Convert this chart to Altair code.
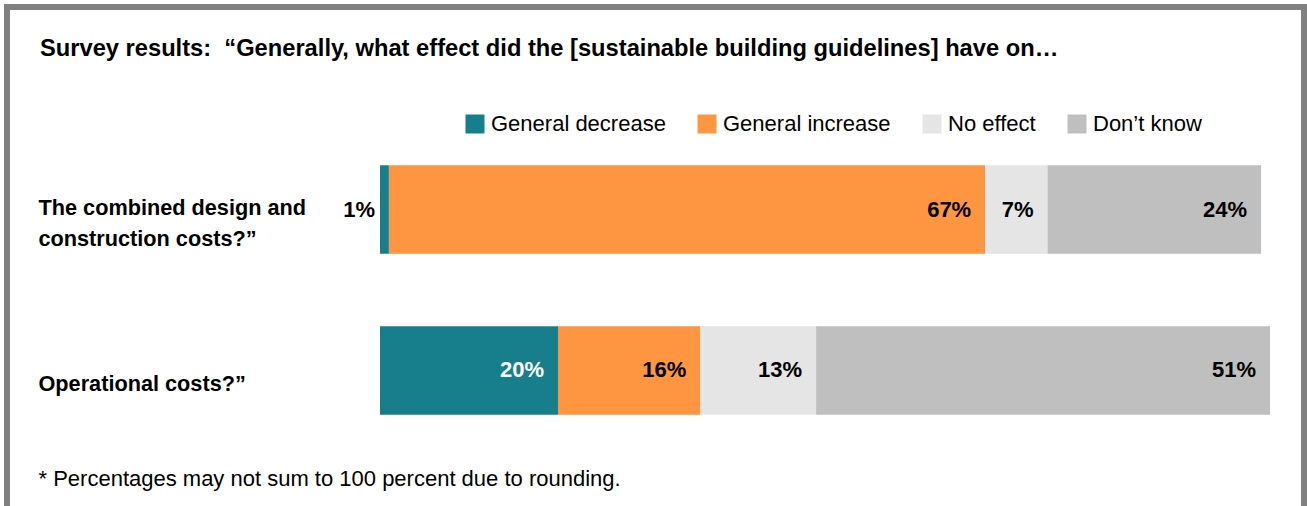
import altair as alt
import pandas as pd

questions = ["The combined design and\nconstruction costs?”", "Operational costs?”"]
responses = ["General decrease", "General increase", "No effect", "Don’t know"]
colors = ["#167f8b", "#fd9541", "#e5e5e5", "#bfbfbf"]
values_q1 = [1, 67, 7, 24]
values_q2 = [20, 16, 13, 51]

title_text = "Survey results:\u00a0 “Generally, what effect did the [sustainable building guidelines] have on…"
footnote = "* Percentages may not sum to 100 percent due to rounding."

FONT = "Liberation Sans Narrow, Arial Narrow, Liberation Sans, Arial"

rows = []
for q, vals in zip(questions, [values_q1, values_q2]):
    start = 0
    for i, (r, v) in enumerate(zip(responses, vals)):
        rows.append({
            "question": q,
            "response": r,
            "order": i,
            "value": v,
            "start": start,
            "end": start + v,
            "label": f"{v}%",
            "txtcolor": "white" if (i == 0 and v >= 5) else "black",
        })
        start += v
df = pd.DataFrame(rows)

y_enc = alt.Y(
    "question:N",
    sort=questions,
    scale=alt.Scale(paddingInner=0.45, paddingOuter=0.157),
    axis=alt.Axis(
        title=None,
        labelExpr="split(datum.label, '\\n')",
        labelAlign="left",
        labelPadding=342,
        labelFont=FONT,
        labelFontWeight="bold",
        labelFontSize=21.7,
        labelLineHeight=31,
        labelOffset={"condition": {"test": "indexof(datum.label, '\\n') >= 0", "value": -2}, "value": 14},
        labelColor="black",
        labelLimit=0,
        ticks=False,
        domain=False,
    ),
)

x_scale = alt.Scale(domain=[0, 100], nice=False, zero=True)

base = alt.Chart(df)

bars = base.mark_bar(stroke=None).encode(
    x=alt.X(
        "start:Q",
        scale=x_scale,
        axis=alt.Axis(
            labels=False, ticks=False, domain=False, grid=False,
            title=footnote,
            titleX=-342, titleY=38, titleAlign="left", titleBaseline="middle",
            titleFont=FONT, titleFontSize=22, titleFontWeight="normal", titleColor="black",
            titleAnchor="start",
        ),
    ),
    x2="end:Q",
    y=y_enc,
    color=alt.Color(
        "response:N",
        scale=alt.Scale(domain=responses, range=colors),
        legend=alt.Legend(
            title=None,
            orient="none",
            direction="horizontal",
            legendX=84,
            legendY=-27,
            symbolType="square",
            symbolSize=361,
            symbolStrokeWidth=0,
            symbolOpacity=1,
            labelFont=FONT,
            labelFontSize=22,
            labelColor="black",
            labelOffset=5,
            columnPadding=30,
            labelLimit=0,
        ),
    ),
    order=alt.Order("order:Q"),
)

inside = base.transform_filter("datum.value >= 5").mark_text(
    align="right", baseline="middle", dx=-14, font=FONT, fontSize=22, fontWeight="bold"
).encode(
    x=alt.X("end:Q", scale=x_scale),
    y=alt.Y("question:N", sort=questions),
    text="label:N",
    color=alt.Color("txtcolor:N", scale=None),
)

outside = base.transform_filter("datum.value < 5").mark_text(
    align="right", baseline="middle", dx=-5, font=FONT, fontSize=22, fontWeight="bold", color="black"
).encode(
    x=alt.X("start:Q", scale=x_scale),
    y=alt.Y("question:N", sort=questions),
    text="label:N",
)

title = alt.Chart(pd.DataFrame({"t": [title_text]})).mark_text(
    align="left", baseline="alphabetic", font=FONT, fontSize=23.7, fontWeight="bold", color="black"
).encode(
    x=alt.value(-340),
    y=alt.value(-84),
    text="t:N",
)

frame = alt.Chart(pd.DataFrame({"f": [0]})).mark_rect(
    fillOpacity=0, stroke="#808080", strokeWidth=6
).encode(
    x=alt.value(-373),
    x2=alt.value(924),
    y=alt.value(-133),
    y2=alt.value(372),
)

chart = alt.layer(bars, inside, outside, title, frame).properties(
    width=890,
    height=300,
    padding={"left": 380, "top": 140, "right": 37, "bottom": 66},
    autosize=alt.AutoSizeParams(type="none"),
    background="white",
).configure_view(stroke=None)

chart.save("out.html", embed_options={"renderer": "svg", "actions": False})
